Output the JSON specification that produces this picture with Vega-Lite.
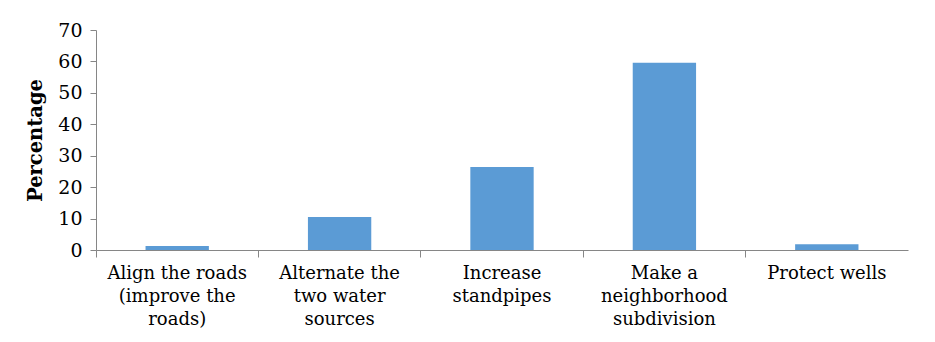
{
  "$schema": "https://vega.github.io/schema/vega-lite/v6.json",
  "width": 812,
  "height": 220,
  "autosize": {"type": "none"},
  "padding": {"left": 96, "top": 30, "right": 27, "bottom": 92},
  "background": "white",
  "config": {
    "view": {"stroke": null},
    "font": "DejaVu Serif"
  },
  "data": {
    "values": [
      {"option": "Align the roads\n(improve the\nroads)", "percentage": 1.3},
      {"option": "Alternate the\ntwo water\nsources", "percentage": 10.5},
      {"option": "Increase\nstandpipes", "percentage": 26.4},
      {"option": "Make a\nneighborhood\nsubdivision", "percentage": 59.6},
      {"option": "Protect wells", "percentage": 1.8}
    ]
  },
  "mark": {"type": "bar", "color": "#5b9bd5", "width": {"band": 0.39}},
  "encoding": {
    "x": {
      "field": "option",
      "type": "nominal",
      "sort": null,
      "scale": {"paddingInner": 0, "paddingOuter": 0},
      "axis": {
        "title": null,
        "labelAngle": 0,
        "labelExpr": "split(datum.label, '\\n')",
        "labelFont": "DejaVu Serif",
        "labelFontSize": 18,
        "labelColor": "#000000",
        "labelLineHeight": 23,
        "labelPadding": 7,
        "labelLimit": 200,
        "domainColor": "#868686",
        "tickColor": "#868686",
        "tickSize": 7,
        "bandPosition": 0,
        "ticks": true
      }
    },
    "y": {
      "field": "percentage",
      "type": "quantitative",
      "scale": {"domain": [0, 70]},
      "axis": {
        "title": "Percentage",
        "titleFont": "DejaVu Serif",
        "titleFontSize": 19.5,
        "titleFontWeight": "bold",
        "titleColor": "#000000",
        "titlePadding": 12,
        "values": [0, 10, 20, 30, 40, 50, 60, 70],
        "grid": false,
        "labelFont": "DejaVu Serif",
        "labelFontSize": 19,
        "labelColor": "#000000",
        "labelPadding": 8,
        "domainColor": "#868686",
        "tickColor": "#868686",
        "tickSize": 6
      }
    }
  }
}
